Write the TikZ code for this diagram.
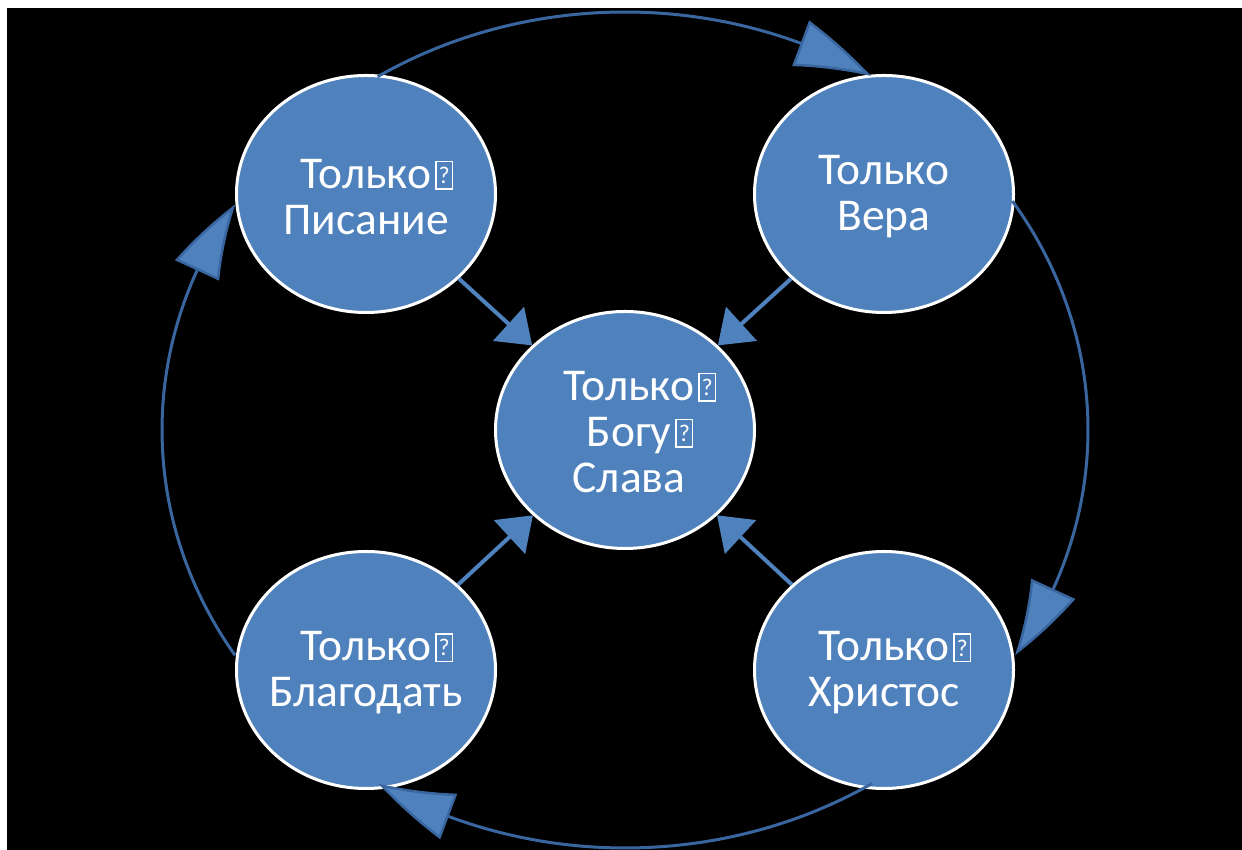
\documentclass[tikz,border=0pt]{standalone}
\usepackage{fontspec}
\setmainfont{Carlito}
\usetikzlibrary{arrows.meta,bending,calc,shapes.geometric}
\definecolor{circfill}{HTML}{4F81BD}
\definecolor{arcline}{HTML}{3A66A0}
\newcommand\tofubox{\rlap{\hspace{4pt}\setlength\fboxsep{0pt}\setlength\fboxrule{1.5pt}\fbox{\vbox to 26pt{\vfil\hbox to 15pt{\hfil\fontsize{24}{24}\selectfont ?\hfil}\vfil}}}}
\begin{document}
\begin{tikzpicture}[x=1pt,y=1pt,
  circ/.style={ellipse, draw=white, line width=3pt, fill=circfill,
    minimum width=259pt, minimum height=237pt, inner sep=0pt},
  lbl/.style={text=white, align=center, inner sep=0pt,
    font=\fontsize{45.5}{46}\selectfont},
  outerarrow/.style={draw=arcline, line width=3pt,
    -{Triangle[length=78pt,width=48pt,fill=circfill,line width=2.5pt,bend]}},
  innerarrow/.style={draw=circfill, line width=4pt,
    -{Triangle[length=32pt,width=46pt,fill=circfill,line width=1.5pt]}}]
\useasboundingbox (0,0) rectangle (1242,850);
\fill[white] (0,0) rectangle (1242,850);
\fill[black] (7,0) rectangle (1242,842);

\node[circ] (TL) at (366,656) {};
\node[circ] (TR) at (884,656) {};
\node[circ] (C)  at (625,420) {};
\node[circ] (BL) at (366,180) {};
\node[circ] (BR) at (884,180) {};
\node[lbl, yshift=-3pt] (tTL) at (TL) {Только\tofubox\\Писание};
\node[lbl, yshift=-3pt] (tTR) at (TR) {Только\\Вера};
\node[lbl, yshift=-2pt, xshift=4pt] (tC) at (C) {Только\tofubox\\Богу\tofubox\\Слава};
\node[lbl, yshift=-3pt] (tBL) at (BL) {Только\tofubox\\Благодать};
\node[lbl, yshift=-3pt] (tBR) at (BR) {Только\tofubox\\Христос};

\coordinate (G) at (625,420);
\coordinate (a1) at ($(G)+(122.3:463pt and 418pt)$);
\coordinate (a2) at ($(G)+(33.2:463pt and 418pt)$);
\coordinate (a3) at ($(G)+(-57.7:463pt and 418pt)$);
\coordinate (a4) at ($(G)+(-147.4:463pt and 418pt)$);

\draw[outerarrow] (a1) arc[start angle=122.3, end angle=57.9, x radius=463pt, y radius=418pt];
\draw[outerarrow] (a2) arc[start angle=33.2, end angle=-32.6, x radius=463pt, y radius=418pt];
\draw[outerarrow] (a3) arc[start angle=-57.7, end angle=-122.2, x radius=463pt, y radius=418pt];
\draw[outerarrow] (a4) arc[start angle=-147.4, end angle=-212.7, x radius=463pt, y radius=418pt];

\draw[innerarrow] (TL) -- (C);
\draw[innerarrow] (TR) -- (C);
\draw[innerarrow] (BL) -- (C);
\draw[innerarrow] (BR) -- (C);
\end{tikzpicture}
\end{document}
